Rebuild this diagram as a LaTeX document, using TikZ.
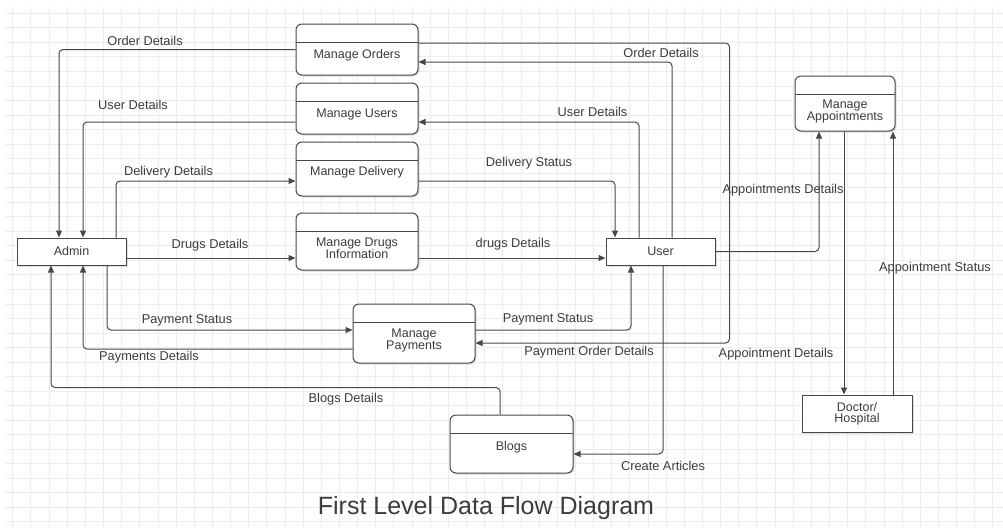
\documentclass[tikz,border=0pt]{standalone}
\usepackage{fontspec}
\setmainfont{Liberation Sans}
\usetikzlibrary{arrows.meta,shadows}
\definecolor{linec}{HTML}{474747}
\definecolor{textc}{HTML}{3C3C3C}
\definecolor{gridc}{HTML}{EDEDED}

\begin{document}
\begin{tikzpicture}[x=1pt,y=-1pt,
  proc/.style={draw=linec, line width=1pt, rounded corners=6pt, fill=white,
    minimum width=122pt, minimum height=51pt, align=center, text=textc,
    font=\fontsize{12.5}{11}\selectfont, text height=20pt,
    drop shadow={shadow xshift=1.5pt, shadow yshift=-1.5pt, opacity=.25},
    path picture={\draw[linec, line width=1pt] ([yshift=-18pt]path picture bounding box.north west) -- ([yshift=-18pt]path picture bounding box.north east);}},
  ent/.style={draw=linec, line width=1pt, fill=white, minimum width=109pt,
    minimum height=27pt, align=center, text=textc, font=\fontsize{12.5}{11}\selectfont,
    drop shadow={shadow xshift=1.5pt, shadow yshift=-1.5pt, opacity=.25}},
  flow/.style={draw=linec, line width=1pt, rounded corners=4pt, -{Triangle[length=7pt,width=6pt]}},
  lbl/.style={text=textc, font=\fontsize{12.8}{12}\selectfont, inner sep=1pt}]
\useasboundingbox (0,0) rectangle (1003,528);
\fill[white] (0,0) rectangle (1003,528);
\foreach \i in {0,...,54} \draw[gridc, line width=.8pt] ({12.7+18.15*\i},7) -- ({12.7+18.15*\i},528);
\foreach \i in {0,...,35} \draw[gridc, line width=.8pt] (5,{13.3+14.53*\i}) -- (1003,{13.3+14.53*\i});

\node [ent] (a) at (71.5,251.5) {Admin};
\node [proc] (b) at (357,49.5) {Manage Orders};
\node [proc] (c) at (357,108.5) {Manage Users};
\node [proc, minimum height=54pt, text height=15pt] (d) at (357,169) {Manage Delivery};
\node [proc, minimum height=57pt, text height=35pt] (e) at (357,241.5) {Manage Drugs\\Information};
\node [proc, minimum height=59pt, text height=34pt] (f) at (414,333.5) {Manage\\Payments};
\node [proc, minimum width=123pt, minimum height=58pt, text height=15pt] (g) at (511.5,444) {Blogs};
\node [ent] (h) at (660.5,251.5) {User};
\node [proc, minimum width=100pt, minimum height=55pt, text height=37pt] (i) at (845,103.5) {Manage\\Appointments};
\node [ent, minimum width=110pt, minimum height=37pt] (j) at (857,413.5) {Doctor/\\Hospital};

\draw[flow] (b.west) -| ([xshift=-12.5pt]a.north);
\draw[flow] ([yshift=-13.5pt]c.west) -| ([xshift=11.5pt]a.north);
\draw[flow] ([xshift=44.5pt]a.north) |- ([yshift=-12pt]d.west);
\draw[flow] ([yshift=-6.5pt]a.east) -- ([yshift=-6.5pt]a.east -| e.west);
\draw[flow] ([xshift=35.5pt]a.south) |- ([yshift=3.5pt]f.west);
\draw[flow] ([yshift=-15.5pt]f.west) -| ([xshift=11.5pt]a.south);
\draw[flow] ([xshift=-11.5pt]g.north) -- ++(0,-27) -| ([xshift=-20.5pt]a.south);
\draw[flow] ([yshift=6.5pt]b.east) -- ++(311,0) |- ([yshift=-9.5pt]f.east);
\draw[flow] ([xshift=11.5pt]h.north) |- ([yshift=-12.5pt]b.east);
\draw[flow] ([xshift=-21.5pt]h.north) |- ([yshift=-13.5pt]c.east);
\draw[flow] ([yshift=-12pt]d.east) -| ([xshift=-45.5pt]h.north);
\draw[flow] ([yshift=-16.5pt]e.east) -- ([yshift=-6.5pt]h.west);
\draw[flow] ([yshift=3.5pt]f.east) -| ([xshift=-29.5pt]h.south);
\draw[flow] ([xshift=2.5pt]h.south) |- ([yshift=-10pt]g.east);
\draw[flow] (h.east) -| ([xshift=-26pt]i.south);
\draw[flow] ([xshift=-1pt]i.south) -- ([xshift=-1pt]i.south |- j.north);
\draw[flow] ([xshift=36pt]j.north) -- ([xshift=36pt]j.north |- i.south);

\node [lbl] (k) at (145,41) {Order Details};
\node [lbl] (l) at (133,105) {User Details};
\node [lbl] (m) at (168.5,172) {Delivery Details};
\node [lbl] (n) at (210,245) {Drugs Details};
\node [lbl] (o) at (187,320) {Payment Status};
\node [lbl] (p) at (149,357) {Payments Details};
\node [lbl] (q) at (346,399) {Blogs Details};
\node [lbl] (r) at (661,53) {Order Details};
\node [lbl] (s) at (592.5,112) {User Details};
\node [lbl] (t) at (529,163) {Delivery Status};
\node [lbl] (u) at (513,244) {drugs Details};
\node [lbl] (v) at (548,319) {Payment Status};
\node [lbl] (w) at (589,352) {Payment Order Details};
\node [lbl] (x) at (663,466) {Create Articles};
\node [lbl] (y) at (783,190) {Appointments Details};
\node [lbl] (z) at (776,354) {Appointment Details};
\node [lbl] (aa) at (935,268) {Appointment Status};
\node [text=textc, font=\fontsize{25}{25}\selectfont] (ab) at (486,508) {First Level Data Flow Diagram};
\end{tikzpicture}
\end{document}
